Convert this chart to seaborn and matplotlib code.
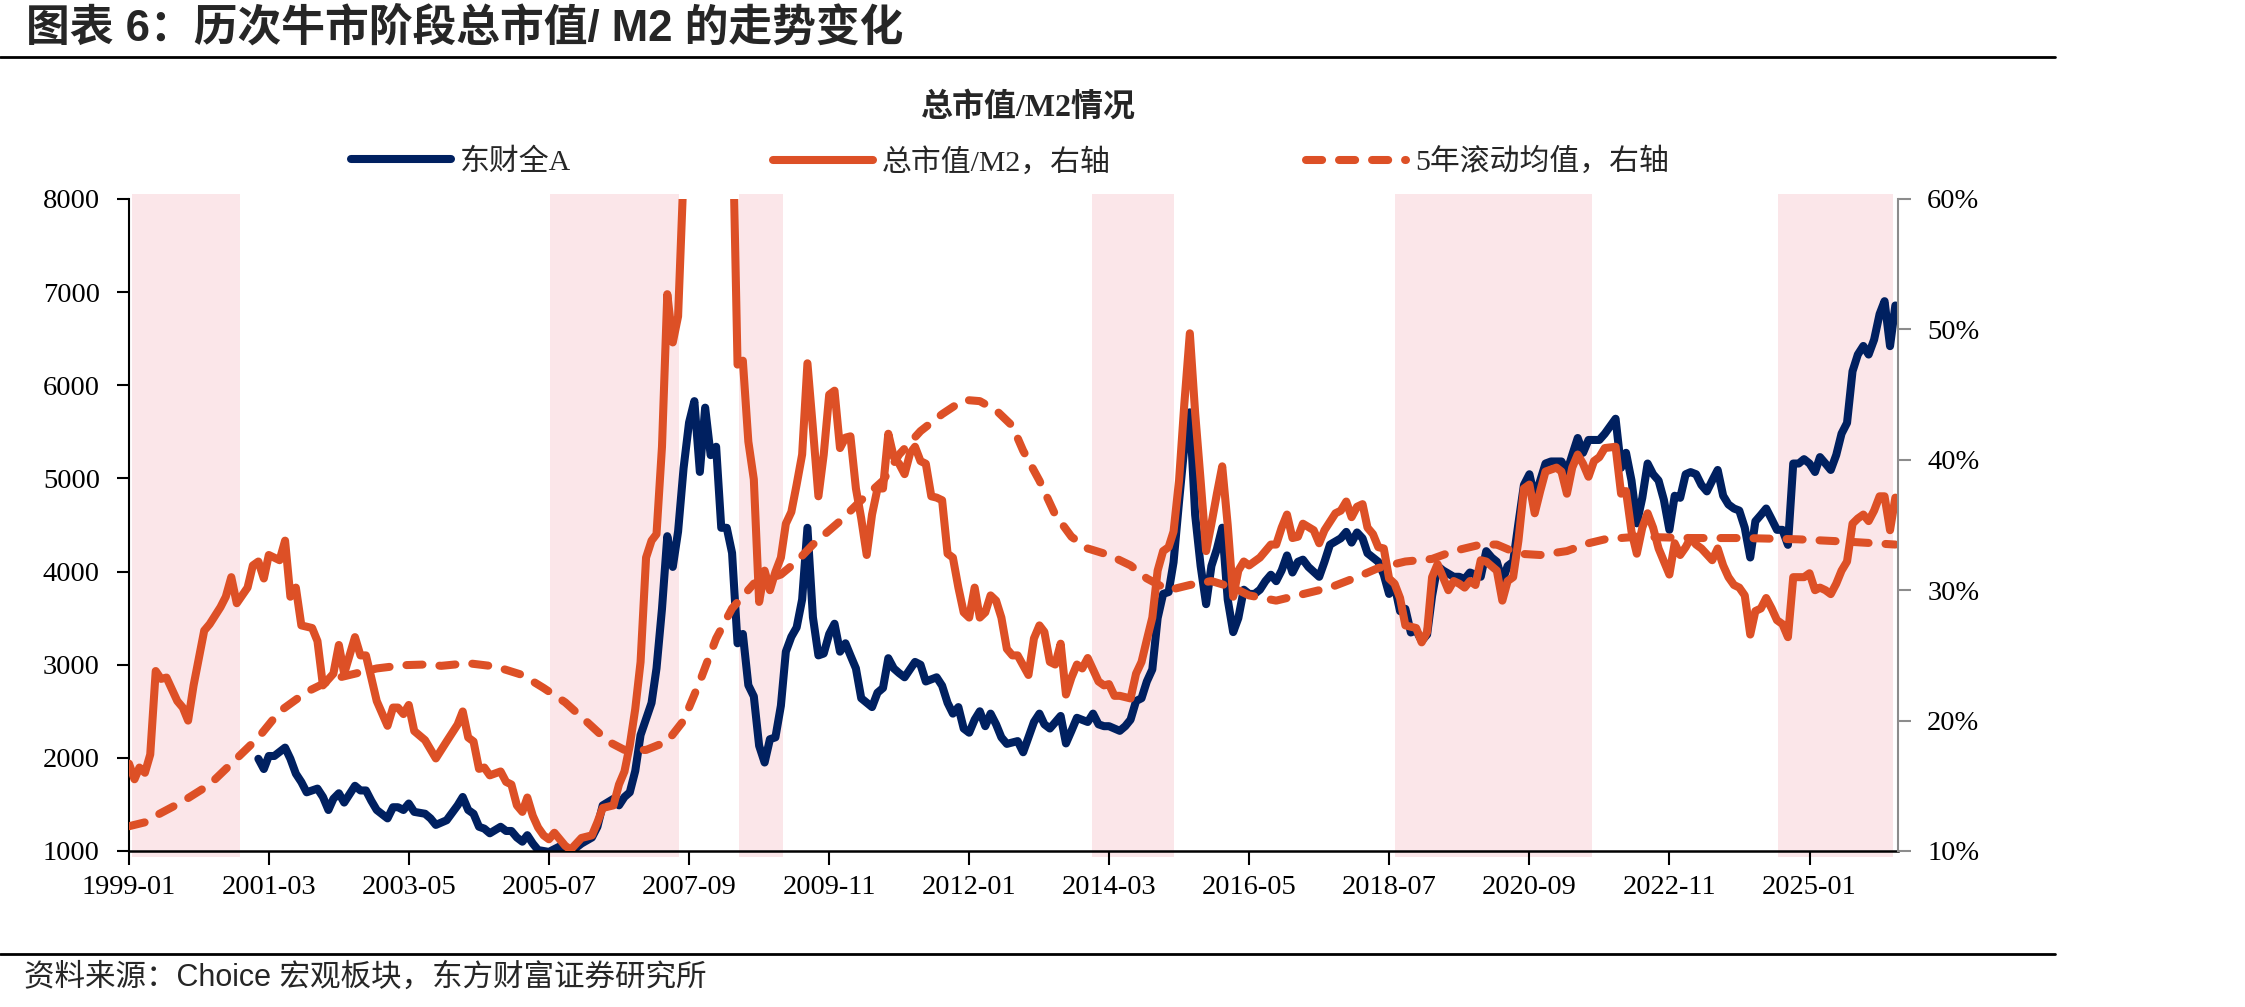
import pandas as pd
import matplotlib
matplotlib.use('Agg')
import matplotlib.pyplot as plt
from matplotlib.lines import Line2D
import seaborn as sns

# 东财全A（左轴），按月读数
dcqa = [
    ('2001-01', 1990), ('2001-02', 1880), ('2001-03', 2020), ('2001-04', 2020), ('2001-06', 2110),
    ('2001-07', 1990), ('2001-08', 1830), ('2001-09', 1740), ('2001-10', 1630), ('2001-12', 1670),
    ('2002-01', 1580), ('2002-02', 1440), ('2002-03', 1560), ('2002-04', 1620), ('2002-05', 1520),
    ('2002-07', 1700), ('2002-08', 1650), ('2002-09', 1650), ('2002-10', 1540), ('2002-11', 1440),
    ('2003-01', 1350), ('2003-02', 1470), ('2003-03', 1470), ('2003-04', 1440), ('2003-05', 1510),
    ('2003-06', 1420), ('2003-08', 1400), ('2003-09', 1350), ('2003-10', 1280), ('2003-12', 1330),
    ('2004-02', 1490), ('2004-03', 1580), ('2004-04', 1440), ('2004-05', 1400), ('2004-06', 1260),
    ('2004-07', 1240), ('2004-08', 1190), ('2004-10', 1260), ('2004-11', 1215), ('2004-12', 1215),
    ('2005-01', 1145), ('2005-02', 1100), ('2005-03', 1170), ('2005-04', 1080), ('2005-05', 1010),
    ('2005-07', 990), ('2005-09', 1050), ('2005-11', 990), ('2006-01', 1080), ('2006-03', 1145),
    ('2006-04', 1260), ('2006-05', 1490), ('2006-07', 1560), ('2006-08', 1490), ('2006-09', 1580),
    ('2006-10', 1630), ('2006-11', 1860), ('2006-12', 2245), ('2007-02', 2590), ('2007-03', 2960),
    ('2007-04', 3600), ('2007-05', 4380), ('2007-06', 4050), ('2007-07', 4430), ('2007-08', 5110),
    ('2007-09', 5600), ('2007-10', 5830), ('2007-11', 5070), ('2007-12', 5760), ('2008-01', 5250),
    ('2008-02', 5340), ('2008-03', 4470), ('2008-04', 4470), ('2008-05', 4200), ('2008-06', 3230),
    ('2008-07', 3330), ('2008-08', 2780), ('2008-09', 2660), ('2008-10', 2130), ('2008-11', 1950),
    ('2008-12', 2200), ('2009-01', 2220), ('2009-02', 2560), ('2009-03', 3140), ('2009-04', 3300),
    ('2009-05', 3400), ('2009-06', 3700), ('2009-07', 4470), ('2009-08', 3510), ('2009-09', 3100),
    ('2009-10', 3120), ('2009-11', 3330), ('2009-12', 3440), ('2010-01', 3140), ('2010-02', 3230),
    ('2010-03', 3100), ('2010-04', 2960), ('2010-05', 2640), ('2010-07', 2545), ('2010-08', 2700),
    ('2010-09', 2750), ('2010-10', 3070), ('2010-11', 2960), ('2010-12', 2910), ('2011-01', 2865),
    ('2011-03', 3030), ('2011-04', 3000), ('2011-05', 2820), ('2011-07', 2865), ('2011-08', 2775),
    ('2011-09', 2590), ('2011-10', 2475), ('2011-11', 2545), ('2011-12', 2315), ('2012-01', 2270),
    ('2012-02', 2410), ('2012-03', 2500), ('2012-04', 2340), ('2012-05', 2475), ('2012-06', 2360),
    ('2012-07', 2220), ('2012-08', 2150), ('2012-10', 2180), ('2012-11', 2060), ('2013-01', 2385),
    ('2013-02', 2475), ('2013-03', 2360), ('2013-04', 2315), ('2013-06', 2450), ('2013-07', 2155),
    ('2013-08', 2290), ('2013-09', 2430), ('2013-11', 2385), ('2013-12', 2475), ('2014-01', 2360),
    ('2014-02', 2340), ('2014-03', 2340), ('2014-05', 2290), ('2014-06', 2340), ('2014-07', 2410),
    ('2014-08', 2610), ('2014-09', 2640), ('2014-10', 2820), ('2014-11', 2950), ('2014-12', 3500),
    ('2015-01', 3760), ('2015-02', 3780), ('2015-03', 4100), ('2015-04', 4750), ('2015-05', 5340),
    ('2015-06', 5710), ('2015-07', 4610), ('2015-08', 4060), ('2015-09', 3650), ('2015-10', 4060),
    ('2015-11', 4243), ('2015-12', 4471), ('2016-01', 3700), ('2016-02', 3350), ('2016-03', 3500),
    ('2016-04', 3805), ('2016-05', 3760), ('2016-06', 3760), ('2016-07', 3805), ('2016-08', 3897),
    ('2016-09', 3966), ('2016-10', 3897), ('2016-11', 4013), ('2016-12', 4173), ('2017-01', 3990),
    ('2017-02', 4105), ('2017-03', 4128), ('2017-04', 4050), ('2017-06', 3944), ('2017-07', 4105),
    ('2017-08', 4289), ('2017-10', 4357), ('2017-11', 4426), ('2017-12', 4311), ('2018-01', 4420),
    ('2018-02', 4357), ('2018-03', 4197), ('2018-05', 4105), ('2018-06', 3966), ('2018-07', 3760),
    ('2018-08', 3851), ('2018-09', 3575), ('2018-10', 3600), ('2018-11', 3346), ('2018-12', 3370),
    ('2019-01', 3255), ('2019-02', 3325), ('2019-03', 3738), ('2019-04', 4060), ('2019-05', 4013),
    ('2019-07', 3944), ('2019-08', 3944), ('2019-09', 3920), ('2019-10', 3990), ('2019-12', 3944),
    ('2020-01', 4219), ('2020-02', 4150), ('2020-03', 4105), ('2020-04', 3897), ('2020-05', 4060),
    ('2020-06', 4105), ('2020-07', 4518), ('2020-08', 4930), ('2020-09', 5045), ('2020-10', 4793),
    ('2020-11', 4976), ('2020-12', 5160), ('2021-01', 5182), ('2021-03', 5182), ('2021-04', 5068),
    ('2021-05', 5252), ('2021-06', 5434), ('2021-07', 5275), ('2021-08', 5413), ('2021-10', 5413),
    ('2021-11', 5480), ('2022-01', 5641), ('2022-02', 5114), ('2022-03', 5275), ('2022-04', 4977),
    ('2022-05', 4518), ('2022-06', 4793), ('2022-07', 5160), ('2022-08', 5045), ('2022-09', 4977),
    ('2022-10', 4769), ('2022-11', 4448), ('2022-12', 4814), ('2023-01', 4792), ('2023-02', 5045),
    ('2023-03', 5068), ('2023-04', 5045), ('2023-05', 4930), ('2023-06', 4861), ('2023-07', 4977),
    ('2023-08', 5091), ('2023-09', 4814), ('2023-10', 4720), ('2023-11', 4677), ('2023-12', 4655),
    ('2024-01', 4471), ('2024-02', 4151), ('2024-03', 4540), ('2024-04', 4608), ('2024-05', 4677),
    ('2024-06', 4562), ('2024-07', 4448), ('2024-08', 4448), ('2024-09', 4287), ('2024-10', 5160),
    ('2024-11', 5160), ('2024-12', 5207), ('2025-01', 5160), ('2025-02', 5069), ('2025-03', 5229),
    ('2025-04', 5160), ('2025-05', 5091), ('2025-06', 5252), ('2025-07', 5481), ('2025-08', 5596),
    ('2025-09', 6150), ('2025-10', 6330), ('2025-11', 6422), ('2025-12', 6330), ('2026-01', 6490),
    ('2026-02', 6765), ('2026-03', 6903), ('2026-04', 6420), ('2026-05', 6857),
]

# 总市值/M2（右轴，%），2007-08 至 2008-05 超出坐标上限，为估计值
cap_m2 = [
    ('1999-01', 16.7), ('1999-02', 15.5), ('1999-03', 16.4), ('1999-04', 16.0), ('1999-05', 17.4),
    ('1999-06', 23.8), ('1999-07', 23.2), ('1999-08', 23.3), ('1999-10', 21.5), ('1999-11', 21.0),
    ('1999-12', 20.0), ('2000-01', 22.7), ('2000-03', 26.9), ('2000-04', 27.4), ('2000-06', 28.7),
    ('2000-07', 29.5), ('2000-08', 31.0), ('2000-09', 29.0), ('2000-11', 30.2), ('2000-12', 31.9),
    ('2001-01', 32.2), ('2001-02', 30.9), ('2001-03', 32.7), ('2001-05', 32.3), ('2001-06', 33.8),
    ('2001-07', 29.5), ('2001-08', 30.2), ('2001-09', 27.3), ('2001-11', 27.1), ('2001-12', 26.1),
    ('2002-01', 22.7), ('2002-03', 23.6), ('2002-04', 25.8), ('2002-05', 23.6), ('2002-07', 26.4),
    ('2002-08', 25.0), ('2002-09', 25.0), ('2002-10', 23.3), ('2002-11', 21.5), ('2003-01', 19.6),
    ('2003-02', 21.0), ('2003-03', 21.0), ('2003-04', 20.5), ('2003-05', 21.2), ('2003-06', 19.2),
    ('2003-08', 18.5), ('2003-10', 17.1), ('2003-12', 18.4), ('2004-02', 19.7), ('2004-03', 20.7),
    ('2004-04', 18.7), ('2004-05', 18.4), ('2004-06', 16.3), ('2004-07', 16.4), ('2004-08', 15.8),
    ('2004-10', 16.1), ('2004-11', 15.3), ('2004-12', 15.1), ('2005-01', 13.5), ('2005-02', 13.0),
    ('2005-03', 14.1), ('2005-04', 12.7), ('2005-05', 11.8), ('2005-06', 11.2), ('2005-07', 10.9),
    ('2005-08', 11.4), ('2005-10', 10.4), ('2005-11', 10.1), ('2006-01', 11.0), ('2006-03', 11.2),
    ('2006-04', 12.2), ('2006-05', 13.3), ('2006-07', 13.5), ('2006-08', 15.1), ('2006-09', 16.1),
    ('2006-10', 18.1), ('2006-11', 20.9), ('2006-12', 24.5), ('2007-01', 32.5), ('2007-02', 33.8),
    ('2007-03', 34.3), ('2007-04', 41.0), ('2007-05', 52.7), ('2007-06', 49.0), ('2007-07', 51.0),
    ('2007-08', 62.0), ('2007-09', 72.0), ('2007-10', 80.0), ('2007-11', 74.0), ('2007-12', 78.0),
    ('2008-01', 70.0), ('2008-02', 72.0), ('2008-03', 66.0), ('2008-04', 67.0), ('2008-05', 68.0),
    ('2008-06', 47.3), ('2008-07', 47.6), ('2008-08', 41.4), ('2008-09', 38.5), ('2008-10', 29.1),
    ('2008-11', 31.5), ('2008-12', 30.0), ('2009-01', 31.4), ('2009-02', 32.5), ('2009-03', 35.1),
    ('2009-04', 36.0), ('2009-05', 38.1), ('2009-06', 40.4), ('2009-07', 47.4), ('2009-08', 42.4),
    ('2009-09', 37.2), ('2009-10', 40.4), ('2009-11', 45.0), ('2009-12', 45.3), ('2010-01', 40.9),
    ('2010-02', 41.7), ('2010-03', 41.8), ('2010-04', 37.8), ('2010-05', 35.5), ('2010-06', 32.7),
    ('2010-07', 35.8), ('2010-08', 37.8), ('2010-09', 37.8), ('2010-10', 42.0), ('2010-11', 40.2),
    ('2010-12', 39.7), ('2011-01', 38.9), ('2011-02', 40.5), ('2011-03', 41.0), ('2011-04', 39.9),
    ('2011-05', 39.7), ('2011-06', 37.2), ('2011-07', 37.1), ('2011-08', 36.9), ('2011-09', 32.8),
    ('2011-10', 32.5), ('2011-11', 30.2), ('2011-12', 28.3), ('2012-01', 27.9), ('2012-02', 30.2),
    ('2012-03', 27.9), ('2012-04', 28.3), ('2012-05', 29.6), ('2012-06', 29.2), ('2012-07', 27.9),
    ('2012-08', 25.5), ('2012-09', 25.0), ('2012-10', 25.0), ('2012-12', 23.5), ('2013-01', 26.3),
    ('2013-02', 27.3), ('2013-03', 26.8), ('2013-04', 24.5), ('2013-05', 24.3), ('2013-06', 25.9),
    ('2013-07', 22.0), ('2013-08', 23.3), ('2013-09', 24.3), ('2013-10', 24.0), ('2013-11', 24.8),
    ('2014-01', 23.0), ('2014-02', 22.7), ('2014-03', 22.8), ('2014-04', 21.9), ('2014-05', 21.9),
    ('2014-07', 21.7), ('2014-08', 23.6), ('2014-09', 24.5), ('2014-10', 26.2), ('2014-11', 27.9),
    ('2014-12', 31.5), ('2015-01', 33.0), ('2015-02', 33.3), ('2015-03', 34.5), ('2015-04', 38.4),
    ('2015-05', 44.3), ('2015-06', 49.7), ('2015-07', 43.6), ('2015-08', 38.4), ('2015-09', 33.0),
    ('2015-10', 35.1), ('2015-11', 37.4), ('2015-12', 39.5), ('2016-01', 35.0), ('2016-02', 29.5),
    ('2016-03', 31.5), ('2016-04', 32.2), ('2016-05', 31.9), ('2016-06', 32.2), ('2016-07', 32.5),
    ('2016-09', 33.5), ('2016-10', 33.5), ('2016-11', 34.8), ('2016-12', 35.8), ('2017-01', 34.0),
    ('2017-02', 34.1), ('2017-03', 35.1), ('2017-05', 34.6), ('2017-06', 33.6), ('2017-07', 34.6),
    ('2017-09', 35.9), ('2017-10', 36.1), ('2017-11', 36.8), ('2017-12', 35.6), ('2018-01', 36.4),
    ('2018-02', 36.6), ('2018-03', 34.8), ('2018-04', 34.3), ('2018-05', 33.3), ('2018-06', 33.2),
    ('2018-07', 30.9), ('2018-08', 30.5), ('2018-09', 29.4), ('2018-10', 27.3), ('2018-12', 27.1),
    ('2019-01', 26.0), ('2019-02', 26.8), ('2019-03', 31.0), ('2019-04', 32.0), ('2019-06', 30.0),
    ('2019-07', 30.7), ('2019-08', 30.5), ('2019-09', 30.2), ('2019-10', 30.7), ('2019-11', 30.4),
    ('2019-12', 32.3), ('2020-01', 32.2), ('2020-03', 31.5), ('2020-04', 29.2), ('2020-05', 30.7),
    ('2020-06', 31.0), ('2020-07', 33.8), ('2020-08', 37.8), ('2020-09', 38.1), ('2020-10', 35.9),
    ('2020-11', 37.6), ('2020-12', 39.1), ('2021-02', 39.4), ('2021-03', 39.1), ('2021-04', 37.4),
    ('2021-05', 39.4), ('2021-06', 40.4), ('2021-07', 39.7), ('2021-08', 38.7), ('2021-09', 39.9),
    ('2021-10', 40.2), ('2021-11', 40.9), ('2022-01', 41.0), ('2022-02', 37.4), ('2022-03', 37.6),
    ('2022-04', 34.5), ('2022-05', 32.8), ('2022-06', 34.8), ('2022-07', 35.9), ('2022-08', 34.8),
    ('2022-09', 33.2), ('2022-11', 31.2), ('2022-12', 33.6), ('2023-01', 32.7), ('2023-02', 33.3),
    ('2023-03', 34.0), ('2023-04', 33.5), ('2023-05', 33.2), ('2023-07', 32.3), ('2023-08', 33.2),
    ('2023-09', 31.9), ('2023-10', 31.0), ('2023-11', 30.4), ('2023-12', 30.2), ('2024-01', 29.6),
    ('2024-02', 26.6), ('2024-03', 28.4), ('2024-04', 28.6), ('2024-05', 29.4), ('2024-06', 28.6),
    ('2024-07', 27.7), ('2024-08', 27.4), ('2024-09', 26.4), ('2024-10', 31.0), ('2024-11', 31.0),
    ('2024-12', 31.0), ('2025-01', 31.3), ('2025-02', 30.0), ('2025-03', 30.2), ('2025-04', 30.0),
    ('2025-05', 29.7), ('2025-06', 30.5), ('2025-07', 31.5), ('2025-08', 32.2), ('2025-09', 35.1),
    ('2025-10', 35.5), ('2025-11', 35.8), ('2025-12', 35.3), ('2026-01', 36.1), ('2026-02', 37.2),
    ('2026-03', 37.2), ('2026-04', 34.6), ('2026-05', 37.1),
]

# 5年滚动均值（右轴，%）
roll_5y = [
    ('1999-01', 11.9), ('1999-04', 12.2), ('1999-06', 12.7), ('1999-11', 13.8), ('2000-04', 15.1),
    ('2000-09', 17.1), ('2001-01', 18.7), ('2001-05', 20.7), ('2001-10', 22.2), ('2002-03', 23.2),
    ('2002-06', 23.5), ('2002-11', 24.0), ('2003-04', 24.25), ('2003-08', 24.3), ('2003-11', 24.2),
    ('2004-04', 24.4), ('2004-09', 24.15), ('2005-02', 23.5), ('2005-06', 22.5), ('2005-10', 21.4),
    ('2006-02', 19.9), ('2006-06', 18.4), ('2006-09', 17.75), ('2007-01', 17.75), ('2007-05', 18.4),
    ('2007-08', 20.0), ('2007-11', 23.0), ('2008-02', 26.3), ('2008-05', 28.6), ('2008-09', 30.5),
    ('2009-02', 31.2), ('2009-05', 32.2), ('2009-08', 33.5), ('2010-01', 35.3), ('2010-05', 36.9),
    ('2010-09', 38.4), ('2010-12', 40.4), ('2011-04', 42.2), ('2011-08', 43.5), ('2011-12', 44.6),
    ('2012-03', 44.5), ('2012-06', 43.8), ('2012-09', 42.6), ('2012-11', 40.7), ('2013-02', 38.4),
    ('2013-05', 35.8), ('2013-08', 34.1), ('2013-11', 33.2), ('2014-03', 32.7), ('2014-07', 31.9),
    ('2014-10', 30.9), ('2015-02', 30.0), ('2015-06', 30.4), ('2015-10', 30.7), ('2016-02', 30.2),
    ('2016-05', 29.6), ('2016-10', 29.2), ('2017-04', 29.8), ('2017-08', 30.2), ('2018-01', 31.0),
    ('2018-05', 31.7), ('2018-10', 32.2), ('2019-03', 32.4), ('2019-07', 33.0), ('2019-12', 33.5),
    ('2020-03', 33.5), ('2020-07', 32.8), ('2020-11', 32.7), ('2021-04', 33.0), ('2021-08', 33.6),
    ('2021-11', 33.9), ('2022-05', 34.1), ('2023-03', 34.0), ('2024-01', 34.0), ('2024-11', 33.9),
    ('2025-09', 33.7), ('2026-05', 33.5),
]

# 牛市阶段（粉色底）
bull_periods = [
    ('1999-01-20', '2000-09-20'), ('2005-07-05', '2007-07-05'), ('2008-06-10', '2009-02-12'),
    ('2013-11-25', '2015-03-01'), ('2018-08-01', '2021-08-20'), ('2024-07-05', '2026-04-20'),
]

x_tick_labels = ['1999-01', '2001-03', '2003-05', '2005-07', '2007-09', '2009-11', '2012-01',
                 '2014-03', '2016-05', '2018-07', '2020-09', '2022-11', '2025-01']
left_ticks = [1000, 2000, 3000, 4000, 5000, 6000, 7000, 8000]
right_ticks = [10, 20, 30, 40, 50, 60]


def to_df(pts):
    d = pd.DataFrame(pts, columns=['date', 'value'])
    d['date'] = pd.to_datetime(d['date'])
    return d


df_a = to_df(dcqa)
df_r = to_df(cap_m2)
df_m = to_df(roll_5y)

NAVY = '#002060'
ORANGE = '#DD5026'
PINK = '#FBE6E9'
DASH = (2.0, 2.1)

sns.set_theme(style='white')
plt.rcParams['font.family'] = ['Liberation Serif', 'Noto Sans CJK SC', 'DejaVu Sans']
plt.rcParams['axes.unicode_minus'] = False

W, H = 2245, 1007
fig = plt.figure(figsize=(W / 100, H / 100), dpi=100)
ax = fig.add_axes([129 / W, 1 - 851 / H, (1898 - 129) / W, (851 - 199) / H])
ax2 = ax.twinx()

for s, e in bull_periods:
    ax.axvspan(pd.Timestamp(s), pd.Timestamp(e), ymin=-0.009, ymax=1.008,
               color=PINK, lw=0, clip_on=False, zorder=0)

lw = 5.8
sns.lineplot(data=df_a, x='date', y='value', ax=ax, color=NAVY, linewidth=lw,
             estimator=None, solid_joinstyle='round', solid_capstyle='round')
sns.lineplot(data=df_m, x='date', y='value', ax=ax2, color=ORANGE, linewidth=lw,
             estimator=None)
ma_line = ax2.lines[-1]
ma_line.set_dashes(DASH)
ma_line.set_dash_capstyle('round')
sns.lineplot(data=df_r, x='date', y='value', ax=ax2, color=ORANGE, linewidth=lw,
             estimator=None, solid_joinstyle='round', solid_capstyle='round')

ax.set_xlim(pd.Timestamp('1999-01-01'), pd.Timestamp('2026-05-16'))
ax.set_ylim(1000, 8000)
ax2.set_ylim(10, 60)
ax.set_xticks(pd.to_datetime(x_tick_labels))
ax.set_xticklabels(x_tick_labels)
ax.set_yticks(left_ticks)
ax.set_yticklabels([str(v) for v in left_ticks])
ax2.set_yticks(right_ticks)
ax2.set_yticklabels([f'{v}%' for v in right_ticks])
for a in (ax, ax2):
    a.set_xlabel('')
    a.set_ylabel('')
    a.grid(False)

ax.tick_params(axis='x', bottom=True, direction='out', length=10, width=1.5,
               color='black', pad=7, labelsize=20.5, labelcolor='black')
ax.tick_params(axis='y', left=True, direction='out', length=9, width=1.5,
               color='black', pad=12, labelsize=20.5, labelcolor='black')
ax2.tick_params(axis='y', right=True, direction='out', length=9, width=1.5,
                color='#8C8C8C', pad=12, labelsize=20.5, labelcolor='black')

for side in ('top', 'right'):
    ax.spines[side].set_visible(False)
for side in ('top', 'left', 'bottom'):
    ax2.spines[side].set_visible(False)
ax.spines['left'].set_color('black')
ax.spines['left'].set_linewidth(1.5)
ax.spines['bottom'].set_color('black')
ax.spines['bottom'].set_linewidth(1.8)
ax2.spines['right'].set_color('#8C8C8C')
ax2.spines['right'].set_linewidth(1.5)

# 图例：三个条目分别定位
leg_items = [
    (Line2D([], [], color=NAVY, lw=lw, solid_capstyle='round'), '东财全A', 351),
    (Line2D([], [], color=ORANGE, lw=lw, solid_capstyle='round'), '总市值/M2，右轴', 773),
    (Line2D([], [], color=ORANGE, lw=lw, dashes=DASH, dash_capstyle='round'),
     '5年滚动均值，右轴', 1306),
]
for h, lab, x0 in leg_items:
    fig.legend(handles=[h], labels=[lab], loc='center left',
               bbox_to_anchor=(x0 / W, 1 - 162 / H), frameon=False,
               handlelength=3.35, handletextpad=0.3, borderpad=0, borderaxespad=0,
               prop={'size': 21.5})

fig.text(26 / W, 1 - 28 / H, '图表 6：历次牛市阶段总市值/ M2 的走势变化',
         fontsize=31.5, fontweight='bold', ha='left', va='center',
         family=['Liberation Sans', 'Noto Sans CJK SC'])
fig.text(1028 / W, 1 - 107 / H, '总市值/M2情况', fontsize=23, fontweight='bold',
         ha='center', va='center')
fig.text(24 / W, 1 - 978 / H, '资料来源：Choice 宏观板块，东方财富证券研究所',
         fontsize=22, ha='left', va='center',
         family=['Liberation Sans', 'Noto Sans CJK SC'])

fig.add_artist(Line2D([0, 2055 / W], [1 - 57 / H] * 2, color='black', lw=2))
fig.add_artist(Line2D([0, 2055 / W], [1 - 954 / H] * 2, color='black', lw=2))

fig.savefig('out.png', dpi=100)
